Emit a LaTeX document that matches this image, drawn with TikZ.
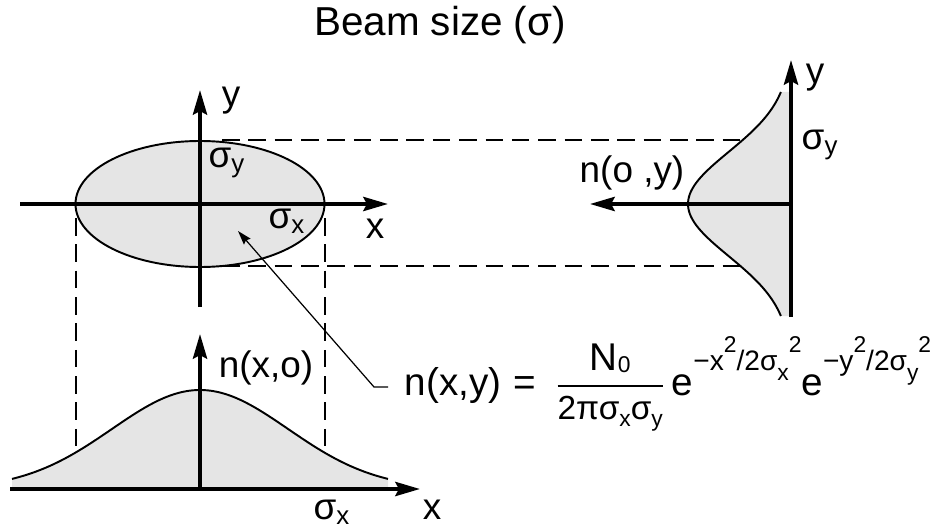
\documentclass[tikz,border=0pt]{standalone}
\usepackage{amsmath}
\usepackage{fontspec}
\setmainfont{Liberation Sans}
\usetikzlibrary{arrows.meta, positioning}
% sub- and superscripts set as raised text
\newcommand{\dn}[2][-3.5pt]{\raisebox{#1}{\fontsize{13}{15}\selectfont #2}}
\newcommand{\dnn}[1]{\raisebox{-5.5pt}{\fontsize{13}{15}\selectfont #1}}
\newcommand{\upp}[1]{\raisebox{10pt}{\fontsize{13}{15}\selectfont #1}}
\newcommand{\ex}[1]{\raisebox{14pt}{\fontsize{16}{18}\selectfont #1}}

\begin{document}
\begin{tikzpicture}[x=0.02cm, y=-0.02cm,
  axis/.style={line width=2.2pt, -{Stealth[length=14pt, width=8pt, inset=2pt]}},
  curve/.style={line width=1.1pt},
  shade/.style={fill=black!10},
  guide/.style={line width=0.8pt, dash pattern=on 10pt off 5pt},
  pointer/.style={line width=0.7pt, -{Stealth[length=8pt, width=5pt, inset=1pt]}},
  lbl/.style={font=\fontsize{21}{25}\selectfont, inner sep=1pt},
  ttl/.style={font=\fontsize{23}{27}\selectfont, inner sep=1pt},
  formula/.style={font=\fontsize{22}{26}\selectfont, inner sep=0pt}
]
\useasboundingbox (0,0) rectangle (932,530);

% ── Title ─────────────────────────────────────────────────────
\node[ttl] (title) at (440,25) {Beam size (σ)};

% ── Beam cross-section (ellipse) ──────────────────────────────
\coordinate (ctr) at (200,204);
\draw[curve, shade] (ctr) ellipse [x radius=124.5, y radius=63];

% dashed guides from the ellipse
\coordinate (gTa) at (222,140); \coordinate (gTb) at (785,140);
\coordinate (gBa) at (222,266); \coordinate (gBb) at (785,266);
\coordinate (gLa) at (76,218);  \coordinate (gLb) at (76,482);
\coordinate (gRa) at (325,218); \coordinate (gRb) at (325,482);
\foreach \a/\b in {gTa/gTb, gBa/gBb, gLa/gLb, gRa/gRb}{
  \draw[guide] (\a) -- (\b);
}

% axes of the cross-section
\coordinate (xL) at (20,204);  \coordinate (xR) at (388,204);
\coordinate (yB) at (200,307); \coordinate (yT) at (200,90);
\draw[axis] (xL) -- (xR);
\draw[axis] (yB) -- (yT);
\node[lbl] (lx)  at (375,229) {x};
\node[lbl] (ly)  at (231,101) {y};
\node[lbl] (lsy) at (227,163) {σ\textsubscript{y}};
\node[lbl] (lsx) at (287,221) {σ\textsubscript{x}};

% ── Vertical profile n(o,y) ───────────────────────────────────
\fill[shade] (791,92) -- plot[domain=92:316, samples=80]
  ({791-103*exp(-((\x-204)/52)^2/2)}, \x) -- (791,316) -- cycle;
\draw[curve] plot[domain=92:316, samples=80]
  ({791-103*exp(-((\x-204)/52)^2/2)}, \x);
\coordinate (vB) at (791,317); \coordinate (vT) at (791,60);
\coordinate (hR) at (791,204); \coordinate (hL) at (590,204);
\draw[axis] (vB) -- (vT);
\draw[axis] (hR) -- (hL);
\node[lbl] (lvy)  at (815,78)  {y};
\node[lbl] (lvsy) at (820,145) {σ\textsubscript{y}};
\node[lbl] (lnoy) at (632,173) {n(o ,y)};

% ── Horizontal profile n(x,o) ─────────────────────────────────
\fill[shade] (12,489) -- plot[domain=12:388, samples=80]
  (\x, {489-99*exp(-((\x-200)/88)^2/2)}) -- (388,489) -- cycle;
\draw[curve] plot[domain=12:388, samples=80]
  (\x, {489-99*exp(-((\x-200)/88)^2/2)});
\coordinate (bL) at (10,489);  \coordinate (bR) at (420,489);
\coordinate (bB) at (200,489); \coordinate (bT) at (200,334);
\draw[axis] (bL) -- (bR);
\draw[axis] (bB) -- (bT);
\node[lbl] (lnxo) at (266,368) {n(x,o)};
\node[lbl] (lbsx) at (332,512) {σ\textsubscript{x}};
\node[lbl] (lbx)  at (432,510) {x};

% ── Density formula with pointer ──────────────────────────────
\node[formula, anchor=base west, outer xsep=9.5pt] (nxy) at (388,395)
  {n(x,y)\hspace{7pt}=\hspace{11pt}$\dfrac{\textstyle\text{N\dn[-1.5pt]{0}}}
   {\textstyle\text{\fontsize{19}{22}\selectfont 2πσ\dn{x}σ\dn{y}}}$\hspace{4pt}e\ex{−x\upp{2}/2σ\dnn{x}\upp{2}}e\ex{−y\upp{2}/2σ\dnn{y}\upp{2}}};
\coordinate (bend) at (374,387);
\coordinate (tip)  at (238,231);
\draw[pointer] (nxy.west |- bend) -- (bend) -- (tip);

\end{tikzpicture}
\end{document}
